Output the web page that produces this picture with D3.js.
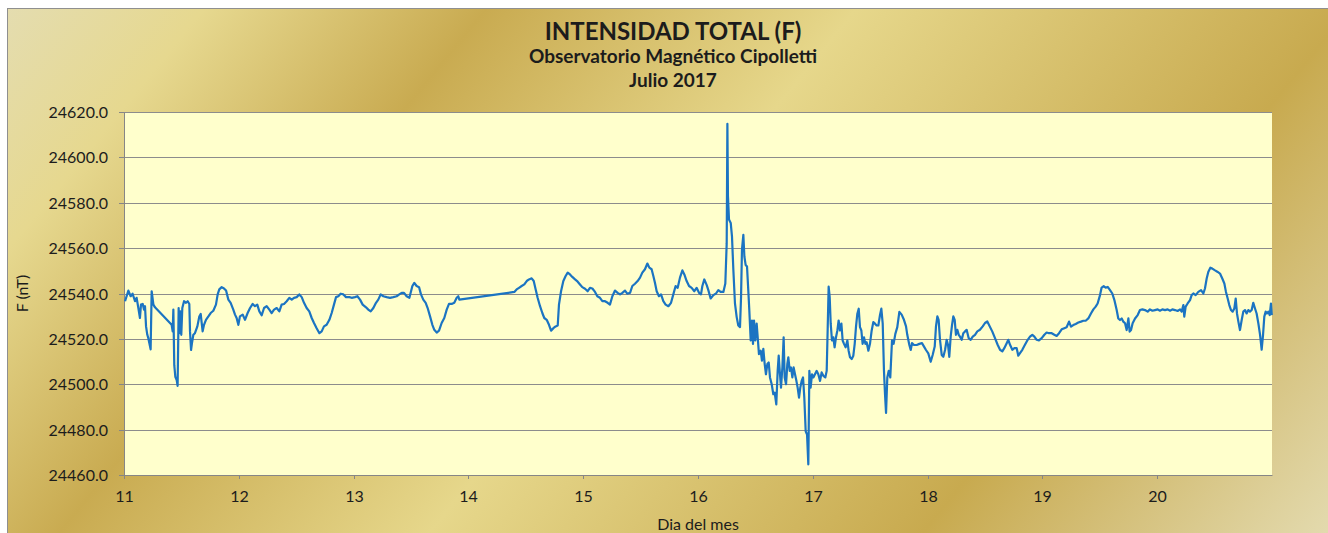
<!DOCTYPE html>
<html>
<head>
<meta charset="utf-8">
<script src="https://cdn.jsdelivr.net/npm/d3@7"></script>
<style>
  body { margin: 0; background: #fff; }
  svg text { font-family: Lato, "Liberation Sans", sans-serif; fill: #1c1c1c; }
</style>
</head>
<body>
<svg id="chart"></svg>
<script>
// Textos
const titulo = "INTENSIDAD TOTAL (F)";
const subtitulo = "Observatorio Magnético Cipolletti";
const periodo = "Julio 2017";
const tituloY = "F (nT)";
const tituloX = "Dia del mes";

// Ejes
const diasEje = [11, 12, 13, 14, 15, 16, 17, 18, 19, 20];
const ticksF = [24460, 24480, 24500, 24520, 24540, 24560, 24580, 24600, 24620];

// Serie: [dia del mes, F en nT]
const serieF = [
  [11.009,24536.6],[11.038,24541.3],[11.058,24538.8],[11.075,24539.9],[11.096,24536.6],[11.110,24538.1],
  [11.125,24533.6],[11.139,24529.2],[11.148,24535.1],[11.163,24535.4],[11.174,24532.9],[11.183,24534.4],
  [11.192,24525.5],[11.203,24521.8],[11.212,24520.3],[11.221,24518.1],[11.232,24515.4],[11.241,24541.0],
  [11.256,24535.1],[11.270,24533.9],[11.415,24526.2],[11.424,24523.3],[11.430,24532.9],[11.438,24508.4],
  [11.447,24503.3],[11.459,24501.8],[11.467,24499.3],[11.476,24533.6],[11.482,24522.5],[11.491,24532.1],
  [11.499,24521.8],[11.508,24533.6],[11.523,24536.6],[11.540,24535.9],[11.555,24536.6],[11.569,24535.4],
  [11.575,24523.3],[11.584,24515.1],[11.592,24518.1],[11.604,24521.8],[11.618,24522.5],[11.639,24525.5],
  [11.656,24529.9],[11.668,24531.0],[11.685,24523.3],[11.697,24526.2],[11.714,24528.4],[11.735,24529.9],
  [11.755,24531.4],[11.778,24532.4],[11.801,24535.1],[11.816,24539.6],[11.830,24541.8],[11.851,24542.8],
  [11.871,24542.2],[11.889,24541.3],[11.909,24537.3],[11.929,24535.9],[11.952,24532.9],[11.967,24530.7],
  [11.981,24529.2],[11.996,24526.2],[12.010,24529.9],[12.034,24530.7],[12.054,24528.4],[12.077,24531.4],
  [12.098,24533.6],[12.121,24535.4],[12.141,24534.4],[12.161,24535.1],[12.179,24532.1],[12.199,24530.4],
  [12.220,24533.6],[12.243,24534.4],[12.266,24532.9],[12.286,24531.4],[12.307,24532.9],[12.330,24533.6],
  [12.353,24532.1],[12.373,24535.1],[12.394,24535.4],[12.417,24536.6],[12.440,24538.1],[12.461,24537.3],
  [12.481,24538.1],[12.504,24538.4],[12.527,24539.6],[12.548,24538.4],[12.568,24535.9],[12.591,24533.6],
  [12.614,24532.1],[12.635,24529.2],[12.655,24527.0],[12.678,24524.7],[12.702,24522.5],[12.722,24523.3],
  [12.742,24525.5],[12.765,24526.2],[12.789,24528.4],[12.809,24531.4],[12.829,24535.1],[12.847,24538.4],
  [12.867,24538.8],[12.887,24539.9],[12.911,24539.6],[12.934,24538.4],[12.963,24538.4],[12.983,24538.1],
  [13.012,24538.4],[13.033,24538.8],[13.056,24537.3],[13.079,24535.1],[13.108,24533.9],[13.128,24532.9],
  [13.149,24532.1],[13.172,24533.6],[13.195,24535.9],[13.215,24537.3],[13.236,24539.6],[13.259,24538.8],
  [13.288,24538.4],[13.317,24538.1],[13.346,24538.4],[13.375,24538.8],[13.398,24539.6],[13.419,24540.3],
  [13.439,24540.3],[13.462,24538.8],[13.486,24538.1],[13.512,24543.3],[13.529,24544.7],[13.549,24543.3],
  [13.570,24542.8],[13.587,24539.6],[13.607,24537.3],[13.628,24535.9],[13.645,24533.6],[13.666,24529.9],
  [13.686,24526.2],[13.703,24524.0],[13.724,24522.8],[13.744,24523.6],[13.767,24527.0],[13.790,24529.2],
  [13.811,24532.9],[13.831,24535.4],[13.854,24535.4],[13.877,24535.9],[13.898,24538.1],[13.912,24538.8],
  [13.921,24537.3],[14.400,24540.7],[14.420,24541.8],[14.441,24542.5],[14.464,24543.3],[14.487,24544.0],
  [14.508,24545.5],[14.528,24546.2],[14.551,24546.7],[14.569,24545.5],[14.586,24541.8],[14.603,24538.1],
  [14.624,24534.4],[14.644,24531.4],[14.661,24529.2],[14.682,24528.4],[14.702,24526.2],[14.720,24523.6],
  [14.740,24524.7],[14.760,24525.5],[14.778,24525.9],[14.789,24535.1],[14.807,24541.0],[14.827,24545.5],
  [14.847,24547.7],[14.865,24549.2],[14.885,24548.4],[14.905,24547.3],[14.929,24546.2],[14.952,24545.2],
  [14.972,24544.0],[14.992,24542.8],[15.016,24542.1],[15.039,24541.0],[15.059,24542.5],[15.080,24542.2],
  [15.103,24540.7],[15.123,24538.8],[15.146,24538.1],[15.167,24536.6],[15.190,24536.6],[15.213,24535.9],
  [15.233,24535.1],[15.254,24538.8],[15.277,24541.3],[15.300,24540.3],[15.321,24539.6],[15.341,24540.3],
  [15.364,24541.3],[15.384,24539.9],[15.408,24540.3],[15.428,24543.3],[15.451,24544.3],[15.474,24545.5],
  [15.495,24547.0],[15.515,24549.2],[15.538,24550.7],[15.559,24553.2],[15.576,24551.4],[15.596,24550.7],
  [15.611,24547.7],[15.625,24544.7],[15.640,24541.0],[15.660,24538.8],[15.678,24539.6],[15.698,24536.6],
  [15.718,24535.1],[15.742,24534.4],[15.765,24535.9],[15.785,24539.6],[15.805,24543.3],[15.823,24542.5],
  [15.843,24547.0],[15.864,24550.2],[15.881,24548.4],[15.901,24545.5],[15.922,24543.3],[15.945,24542.5],
  [15.968,24541.0],[15.988,24542.5],[16.009,24540.3],[16.026,24539.6],[16.038,24543.3],[16.055,24546.2],
  [16.076,24543.7],[16.090,24541.5],[16.110,24537.8],[16.134,24539.3],[16.157,24540.0],[16.177,24541.5],
  [16.197,24540.7],[16.221,24540.7],[16.238,24544.4],[16.250,24562.2],[16.256,24614.8],[16.261,24583.0],
  [16.270,24572.6],[16.285,24571.1],[16.296,24565.2],[16.308,24550.4],[16.322,24535.6],[16.337,24529.6],
  [16.351,24525.9],[16.366,24525.2],[16.375,24538.5],[16.383,24559.3],[16.395,24565.9],[16.404,24556.3],
  [16.415,24552.6],[16.427,24551.9],[16.438,24541.5],[16.447,24532.6],[16.459,24519.3],[16.470,24528.1],
  [16.479,24517.8],[16.488,24528.1],[16.499,24519.3],[16.511,24526.7],[16.520,24520.7],[16.531,24513.3],
  [16.546,24514.8],[16.557,24510.4],[16.569,24515.6],[16.581,24508.9],[16.592,24504.4],[16.604,24508.9],
  [16.616,24509.6],[16.627,24503.0],[16.642,24500.0],[16.656,24495.6],[16.668,24496.3],[16.682,24491.1],
  [16.694,24505.9],[16.703,24512.6],[16.714,24504.4],[16.723,24498.5],[16.735,24507.4],[16.746,24520.7],
  [16.755,24503.0],[16.767,24500.0],[16.778,24508.9],[16.787,24511.9],[16.799,24505.9],[16.810,24507.4],
  [16.822,24503.0],[16.833,24507.4],[16.845,24504.4],[16.857,24501.5],[16.868,24498.5],[16.880,24494.1],
  [16.891,24498.5],[16.903,24501.5],[16.915,24503.0],[16.926,24494.1],[16.938,24479.3],[16.950,24477.8],
  [16.961,24464.7],[16.970,24505.9],[16.981,24498.5],[16.993,24504.4],[17.005,24503.0],[17.019,24504.4],
  [17.034,24505.9],[17.048,24504.4],[17.063,24501.5],[17.077,24505.2],[17.092,24503.7],[17.109,24503.0],
  [17.121,24505.9],[17.130,24525.2],[17.138,24543.0],[17.147,24538.5],[17.156,24526.7],[17.167,24519.3],
  [17.179,24520.7],[17.190,24516.3],[17.202,24520.7],[17.214,24523.7],[17.225,24528.1],[17.237,24523.7],
  [17.249,24526.7],[17.260,24519.3],[17.272,24517.8],[17.286,24516.3],[17.301,24519.3],[17.312,24514.8],
  [17.324,24511.9],[17.339,24511.1],[17.353,24512.6],[17.365,24517.8],[17.376,24525.2],[17.388,24531.1],
  [17.400,24533.3],[17.411,24525.2],[17.423,24523.7],[17.434,24517.8],[17.446,24520.7],[17.458,24517.8],
  [17.469,24518.5],[17.484,24514.8],[17.498,24517.8],[17.513,24523.7],[17.527,24527.4],[17.542,24526.7],
  [17.556,24525.9],[17.571,24525.9],[17.585,24530.4],[17.597,24533.3],[17.609,24526.7],[17.620,24505.9],
  [17.629,24495.6],[17.638,24487.4],[17.649,24503.0],[17.661,24505.9],[17.675,24503.0],[17.690,24519.3],
  [17.704,24517.8],[17.719,24522.2],[17.736,24525.2],[17.754,24531.9],[17.774,24530.7],[17.794,24528.4],
  [17.812,24525.5],[17.823,24521.8],[17.841,24517.3],[17.853,24515.1],[17.864,24518.1],[17.882,24517.3],
  [17.905,24517.3],[17.928,24517.8],[17.951,24518.1],[17.969,24516.6],[17.986,24515.1],[18.006,24513.6],
  [18.027,24509.9],[18.044,24512.9],[18.062,24516.6],[18.073,24525.5],[18.085,24529.9],[18.096,24528.4],
  [18.108,24519.6],[18.123,24512.9],[18.137,24512.1],[18.152,24515.1],[18.166,24519.6],[18.178,24517.3],
  [18.189,24512.1],[18.201,24521.0],[18.213,24526.2],[18.224,24529.9],[18.236,24528.4],[18.247,24521.8],
  [18.259,24524.0],[18.271,24521.8],[18.282,24521.0],[18.297,24519.6],[18.311,24522.5],[18.326,24523.3],
  [18.340,24524.0],[18.358,24520.3],[18.375,24519.6],[18.393,24521.0],[18.413,24521.8],[18.433,24523.3],
  [18.456,24524.0],[18.480,24525.5],[18.500,24527.0],[18.520,24527.7],[18.564,24523.2],[18.587,24520.3],
  [18.610,24517.4],[18.631,24515.2],[18.651,24514.5],[18.668,24515.9],[18.689,24518.1],[18.703,24519.6],
  [18.718,24517.4],[18.738,24515.2],[18.756,24515.9],[18.776,24515.9],[18.790,24512.6],[18.805,24513.7],
  [18.825,24515.2],[18.848,24517.4],[18.872,24519.6],[18.892,24521.0],[18.912,24521.8],[18.930,24521.0],
  [18.950,24519.6],[18.970,24519.3],[18.994,24520.3],[19.017,24521.8],[19.037,24522.8],[19.058,24522.5],
  [19.081,24522.5],[19.104,24521.8],[19.124,24521.3],[19.145,24522.5],[19.168,24524.2],[19.191,24524.7],
  [19.211,24525.1],[19.232,24527.6],[19.249,24525.4],[19.269,24526.1],[19.290,24526.6],[19.313,24527.2],
  [19.336,24527.6],[19.357,24528.0],[19.377,24528.0],[19.400,24529.0],[19.423,24531.2],[19.444,24533.0],
  [19.464,24534.2],[19.481,24535.6],[19.502,24539.3],[19.516,24542.6],[19.534,24543.2],[19.551,24542.6],
  [19.569,24542.9],[19.589,24541.5],[19.609,24540.0],[19.627,24537.1],[19.647,24532.7],[19.661,24529.0],
  [19.676,24528.3],[19.691,24529.0],[19.705,24527.6],[19.720,24526.9],[19.734,24523.9],[19.749,24529.0],
  [19.760,24523.2],[19.772,24523.9],[19.786,24526.9],[19.807,24529.0],[19.830,24530.5],[19.850,24532.7],
  [19.871,24533.0],[19.894,24532.7],[19.917,24532.0],[19.937,24533.0],[19.958,24532.4],[19.981,24532.7],
  [20.004,24533.0],[20.024,24532.4],[20.045,24533.0],[20.068,24532.7],[20.091,24533.0],[20.112,24532.4],
  [20.132,24533.0],[20.155,24532.7],[20.178,24532.3],[20.199,24533.0],[20.213,24532.0],[20.228,24534.9],
  [20.236,24529.8],[20.248,24534.2],[20.265,24535.6],[20.286,24537.1],[20.300,24539.3],[20.315,24540.0],
  [20.335,24539.3],[20.358,24540.7],[20.382,24541.5],[20.402,24540.0],[20.416,24542.2],[20.431,24546.6],
  [20.445,24549.5],[20.463,24551.4],[20.480,24551.0],[20.504,24550.2],[20.527,24549.5],[20.547,24548.8],
  [20.567,24546.6],[20.585,24544.4],[20.599,24540.7],[20.614,24537.8],[20.628,24534.9],[20.643,24532.7],
  [20.657,24532.0],[20.672,24533.4],[20.684,24537.8],[20.695,24531.2],[20.707,24527.6],[20.721,24523.9],
  [20.736,24528.3],[20.750,24532.0],[20.765,24532.7],[20.779,24531.2],[20.794,24532.7],[20.808,24532.0],
  [20.823,24532.7],[20.837,24535.9],[20.852,24533.4],[20.866,24531.2],[20.881,24526.9],[20.896,24521.8],
  [20.910,24515.2],[20.922,24521.8],[20.933,24529.8],[20.945,24532.0],[20.956,24531.2],[20.968,24532.0],
  [20.980,24530.5],[20.991,24535.6],[20.998,24530.5]
];

// Chart
const W = 1328, H = 533;
const margin = {top: 112, right: 56, bottom: 58, left: 124},
      width = W - margin.left - margin.right,
      height = H - margin.top - margin.bottom;

const svg = d3.select("#chart")
    .attr("width", W)
    .attr("height", H);

// Fondo degradado dorado
const grad = svg.append("defs").append("linearGradient")
    .attr("id", "fondo")
    .attr("gradientUnits", "userSpaceOnUse")
    .attr("x1", 0).attr("y1", 0)
    .attr("x2", 1059).attr("y2", 863);
[[0, "#e4ddb2"], [0.12, "#e6d88f"], [0.28, "#c9ab51"], [0.49, "#e6d78b"], [0.77, "#c8aa4f"], [1, "#e3daae"]]
    .forEach(function(s) { grad.append("stop").attr("offset", s[0]).attr("stop-color", s[1]); });

svg.append("rect")
    .attr("x", 7.5).attr("y", 8.5)
    .attr("width", 1340).attr("height", 540)
    .attr("fill", "url(#fondo)")
    .attr("stroke", "#8f8f8f");

const g = svg.append("g")
    .attr("transform", "translate(" + margin.left + "," + margin.top + ")");

// Scales
const x = d3.scaleLinear().domain([11, 21]).range([0, width]);
const y = d3.scaleLinear().domain([24460, 24620]).range([height, 0]);
const yRound = y.copy().interpolate(d3.interpolateRound);
const xRound = x.copy().interpolate(d3.interpolateRound);

// Area de trazado
g.append("rect")
    .attr("width", width)
    .attr("height", height)
    .attr("fill", "#ffffcc");

// Grilla
g.append("g")
    .selectAll("line")
    .data(ticksF.slice(1))
    .enter()
    .append("line")
    .attr("x1", 0).attr("x2", width)
    .attr("y1", function(d) { return yRound(d) + 0.5; })
    .attr("y2", function(d) { return yRound(d) + 0.5; })
    .attr("stroke", "#8c8c8c");

// Axes
const axisY = g.append("g")
    .call(d3.axisLeft(yRound).tickValues(ticksF).tickFormat(function(d) { return d.toFixed(1); })
        .tickSize(5).tickSizeOuter(0).tickPadding(11));
const axisX = g.append("g")
    .attr("transform", "translate(0," + height + ")")
    .call(d3.axisBottom(xRound).tickValues(diasEje).tickFormat(d3.format("d"))
        .tickSize(4).tickSizeOuter(0).tickPadding(12));
[axisY, axisX].forEach(function(a) {
    a.select(".domain").attr("stroke", "#868686");
    a.selectAll(".tick line").attr("stroke", "#868686");
    a.selectAll(".tick text").attr("font-size", 16).attr("font-family", null).attr("fill", "#1c1c1c");
});

// Linea F
g.append("path")
    .datum(serieF)
    .attr("fill", "none")
    .attr("stroke", "#1b74c2")
    .attr("stroke-width", 2.2)
    .attr("stroke-linejoin", "round")
    .attr("d", d3.line()
        .x(function(d) { return x(d[0]); })
        .y(function(d) { return y(d[1]); }));

// Titulos
svg.append("text").attr("x", 673).attr("y", 40).attr("text-anchor", "middle")
    .attr("font-size", 24).attr("font-weight", "bold").attr("fill", "#000").text(titulo);
svg.append("text").attr("x", 673).attr("y", 63).attr("text-anchor", "middle")
    .attr("font-size", 19).attr("font-weight", "bold").attr("fill", "#000").text(subtitulo);
svg.append("text").attr("x", 673).attr("y", 87).attr("text-anchor", "middle")
    .attr("font-size", 19).attr("font-weight", "bold").attr("fill", "#000").text(periodo);

svg.append("text")
    .attr("transform", "translate(22," + (margin.top + height / 2) + ") rotate(-90)")
    .attr("text-anchor", "middle").attr("dy", "0.35em")
    .attr("font-size", 16).text(tituloY);
svg.append("text")
    .attr("x", margin.left + width / 2).attr("y", 530)
    .attr("text-anchor", "middle")
    .attr("font-size", 16).text(tituloX);
</script>
</body>
</html>
